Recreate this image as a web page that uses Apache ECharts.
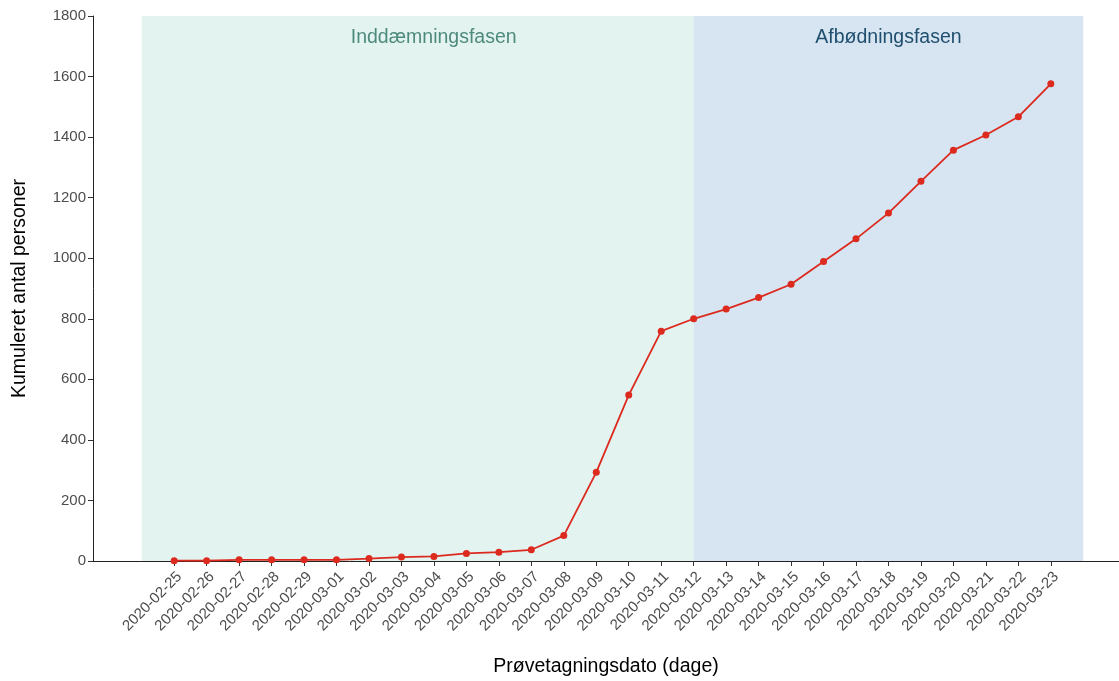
<!DOCTYPE html>
<html>
<head>
<meta charset="utf-8">
<script src="https://cdn.jsdelivr.net/npm/echarts@6/dist/echarts.min.js"></script>
<style>
  html, body { margin: 0; padding: 0; background: #fff; }
  #chart { width: 1119px; height: 681px; }
</style>
</head>
<body>
<div id="chart"></div>
<script>
var dates = ['2020-02-25','2020-02-26','2020-02-27','2020-02-28','2020-02-29','2020-03-01','2020-03-02',
  '2020-03-03','2020-03-04','2020-03-05','2020-03-06','2020-03-07','2020-03-08','2020-03-09','2020-03-10',
  '2020-03-11','2020-03-12','2020-03-13','2020-03-14','2020-03-15','2020-03-16','2020-03-17','2020-03-18',
  '2020-03-19','2020-03-20','2020-03-21','2020-03-22','2020-03-23'];
var cumulative = [1, 1, 4, 4, 4, 4, 8, 13, 15, 25, 29, 37, 84, 293, 548, 759, 800, 832, 870, 914, 989,
  1064, 1149, 1254, 1357, 1407, 1467, 1576];
var yTicks = [0, 200, 400, 600, 800, 1000, 1200, 1400, 1600, 1800];
// phases: [start index, end index, label]
var phases = [
  [-1, 16, 'Inddæmningsfasen'],
  [16, 28, 'Afbødningsfasen']
];

var chart = echarts.init(document.getElementById('chart'));
var font = 'Liberation Sans, Arial, sans-serif';

var points = dates.map(function (d, i) { return [i, cumulative[i]]; });
var idx = dates.map(function (d, i) { return i; });

chart.setOption({
  animation: false,
  textStyle: { fontFamily: font },
  grid: { left: 93, right: 0, top: 16, bottom: 120, containLabel: false, outerBoundsMode: 'none' },
  xAxis: {
    type: 'value',
    min: -2.5,
    max: 29.1,
    name: 'Prøvetagningsdato (dage)',
    nameLocation: 'middle',
    nameGap: 96,
    nameTextStyle: { color: '#000', fontSize: 19.5, fontFamily: font },
    axisLine: { show: true, onZero: false, lineStyle: { color: '#222', width: 1 } },
    axisTick: { show: true, customValues: idx, length: 5, lineStyle: { color: '#333' } },
    splitLine: { show: false },
    axisLabel: {
      customValues: idx,
      rotate: 45,
      verticalAlign: 'top',
      color: '#4d4d4d',
      fontSize: 15,
      margin: 8,
      formatter: function (v) { return dates[v] || ''; }
    }
  },
  yAxis: {
    type: 'value',
    min: 0,
    max: 1800,
    interval: 200,
    name: 'Kumuleret antal personer',
    nameLocation: 'middle',
    nameGap: 63,
    nameTextStyle: { color: '#000', fontSize: 19.5, fontFamily: font },
    axisLine: { show: true, onZero: false, lineStyle: { color: '#222', width: 1 } },
    axisTick: { show: true, length: 5, lineStyle: { color: '#333' } },
    splitLine: { show: false },
    axisLabel: {
      color: '#4d4d4d',
      fontSize: 15,
      margin: 7,
      formatter: function (v) { return yTicks.indexOf(v) >= 0 ? String(v) : ''; }
    }
  },
  series: [{
    type: 'line',
    data: points,
    symbol: 'circle',
    symbolSize: 7,
    lineStyle: { color: '#dc2a1f', width: 1.8 },
    itemStyle: { color: '#dc2a1f' },
    z: 5,
    markArea: {
      silent: true,
      data: [
        [{ xAxis: phases[0][0], yAxis: 0, name: phases[0][2],
           itemStyle: { color: '#e3f3ef' },
           label: { color: '#4e8a7c', offset: [16, 0] } },
         { xAxis: phases[0][1], yAxis: 1800 }],
        [{ xAxis: phases[1][0], yAxis: 0, name: phases[1][2],
           itemStyle: { color: '#d6e5f1' },
           label: { color: '#1f4e6e' } },
         { xAxis: phases[1][1], yAxis: 1800 }]
      ],
      label: {
        show: true,
        position: 'insideTop',
        distance: 12,
        fontSize: 19.5,
        fontFamily: font
      }
    }
  }]
});
</script>
</body>
</html>
